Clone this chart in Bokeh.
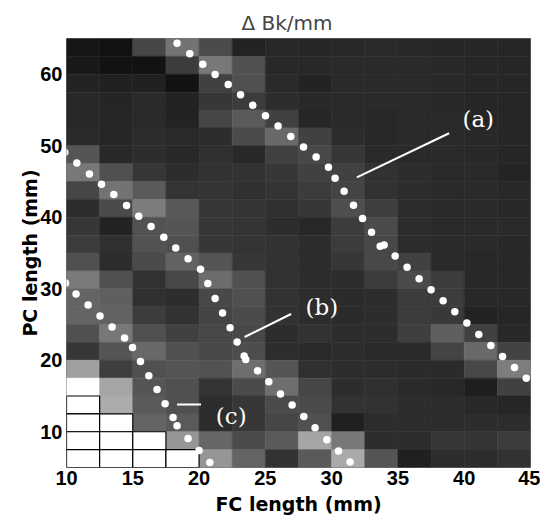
import math
from bokeh.plotting import figure
from bokeh.models import ColumnDataSource, LinearColorMapper, Range1d, FixedTicker, Label
from bokeh.palettes import Greys256
from bokeh.embed import file_html
from bokeh.resources import INLINE

# ---------------- data ----------------
fc_length = [11.25, 13.75, 16.25, 18.75, 21.25, 23.75, 26.25, 28.75,
             31.25, 33.75, 36.25, 38.75, 41.25, 43.75]
pc_length = [63.75, 61.25, 58.75, 56.25, 53.75, 51.25, 48.75, 46.25,
             43.75, 41.25, 38.75, 36.25, 33.75, 31.25, 28.75, 26.25,
             23.75, 21.25, 18.75, 16.25, 13.75, 11.25, 8.75, 6.25]
NA = float("nan")
# gray level of each cell (0 = black, 255 = white), rows from top (PC 63.75) to bottom
bk_rows = [
    [22, 18, 70, 115, 75, 35, 40, 38, 40, 42, 40, 38, 38, 38],
    [25, 18, 18, 60, 120, 80, 40, 40, 42, 42, 42, 40, 38, 38],
    [35, 33, 33, 18, 65, 80, 42, 35, 42, 42, 42, 40, 38, 38],
    [40, 37, 42, 35, 55, 60, 45, 40, 42, 42, 42, 40, 38, 38],
    [40, 38, 42, 35, 70, 90, 65, 38, 42, 40, 42, 42, 38, 38],
    [42, 38, 45, 42, 45, 75, 105, 65, 45, 40, 42, 42, 40, 38],
    [85, 40, 45, 40, 48, 40, 65, 72, 55, 42, 42, 42, 40, 38],
    [120, 80, 55, 45, 50, 50, 55, 65, 65, 50, 45, 42, 42, 36],
    [70, 115, 90, 52, 52, 48, 52, 60, 68, 50, 45, 42, 42, 40],
    [45, 75, 125, 88, 55, 52, 48, 55, 78, 62, 45, 42, 42, 40],
    [55, 35, 82, 85, 55, 52, 45, 40, 60, 75, 45, 42, 42, 42],
    [60, 48, 82, 80, 55, 52, 50, 45, 60, 72, 45, 42, 42, 40],
    [80, 45, 75, 98, 85, 55, 50, 45, 55, 72, 65, 42, 40, 40],
    [122, 80, 50, 72, 108, 80, 50, 45, 45, 60, 75, 60, 40, 40],
    [100, 95, 48, 45, 72, 80, 50, 45, 43, 45, 60, 60, 40, 40],
    [100, 98, 60, 50, 68, 75, 50, 45, 43, 45, 60, 57, 35, 38],
    [80, 120, 80, 65, 72, 72, 45, 50, 45, 45, 63, 95, 65, 40],
    [55, 85, 105, 80, 72, 77, 45, 42, 45, 42, 42, 68, 105, 67],
    [160, 62, 80, 85, 82, 110, 85, 48, 45, 45, 43, 43, 72, 125],
    [255, 165, 85, 80, 52, 75, 110, 70, 45, 48, 42, 40, 30, 65],
    [NA, 172, 90, 80, 45, 55, 75, 75, 50, 50, 45, 45, 40, 38],
    [NA, NA, 100, 90, 45, 55, 70, 80, 32, 45, 45, 45, 45, 45],
    [NA, NA, NA, 150, 102, 75, 90, 165, 120, 45, 45, 55, 52, 60],
    [NA, NA, NA, NA, 150, 100, 50, 90, 170, 85, 32, 45, 45, 50],
]

curve_a_x = [18.34, 19.30, 20.28, 21.21, 22.20, 23.13, 24.05, 25.01, 25.96, 26.92,
             27.88, 28.83, 29.76, 30.26, 30.94, 31.65, 32.33, 33.01, 33.66, 33.96,
             34.79, 35.69, 36.60, 37.50, 38.41, 39.29, 40.20, 41.10, 42.01, 42.89,
             43.79, 44.68]
curve_a_y = [64.34, 62.86, 61.40, 59.96, 58.56, 57.12, 55.65, 54.20, 52.75, 51.31,
             49.84, 48.44, 46.99, 45.45, 43.63, 41.67, 39.81, 37.89, 35.93, 36.13,
             34.59, 32.99, 31.41, 29.87, 28.33, 26.79, 25.21, 23.61, 22.07, 20.54,
             19.00, 17.48]
curve_b_x = [9.87, 10.78, 11.73, 12.64, 13.57, 14.53, 15.45, 16.38, 17.34, 18.24,
             19.17, 20.11, 20.66, 21.21, 21.77, 22.34, 22.87, 23.40, 23.52, 24.41,
             25.26, 26.14, 27.02, 27.90, 28.75, 29.64, 30.52, 31.39]
curve_b_y = [49.09, 47.60, 46.06, 44.61, 43.17, 41.63, 40.13, 38.69, 37.19, 35.71,
             34.21, 32.71, 30.75, 28.65, 26.61, 24.55, 22.55, 20.59, 20.12, 18.53,
             16.99, 15.27, 13.73, 12.14, 10.56, 8.88, 7.30, 5.76]
curve_c_x = [9.92, 10.72, 11.63, 12.53, 13.44, 14.38, 14.98, 15.58, 16.21, 16.83,
             17.44, 18.04, 18.34, 19.17, 20.00, 20.81]
curve_c_y = [30.81, 29.27, 27.73, 26.19, 24.65, 23.11, 21.80, 19.84, 17.83, 15.92,
             13.92, 12.00, 10.84, 9.06, 7.38, 5.70]

label_texts = ["(a)", "(b)", "(c)"]
label_x = [41.06, 29.26, 22.43]
label_y = [53.76, 27.45, 12.24]
leader_x0 = [31.90, 23.43, 18.34]
leader_y0 = [45.59, 23.25, 13.82]
leader_x1 = [38.86, 26.94, 20.15]
leader_y1 = [51.75, 26.47, 13.82]

x_ticks = [10, 15, 20, 25, 30, 35, 40, 45]
y_ticks = [10, 20, 30, 40, 50, 60]
cell_w = 2.5
cell_h = 2.5

# ---------------- build sources ----------------
vx, vy, vv, mx, my = [], [], [], [], []
for r, row in enumerate(bk_rows):
    for c, v in enumerate(row):
        if isinstance(v, float) and math.isnan(v):
            mx.append(fc_length[c]); my.append(pc_length[r])
        else:
            vx.append(fc_length[c]); vy.append(pc_length[r]); vv.append(v)

cells = ColumnDataSource(dict(x=vx, y=vy, v=vv))
masked = ColumnDataSource(dict(x=mx, y=my))
mapper = LinearColorMapper(palette=Greys256, low=0, high=255)

p = figure(width=540, height=519, output_backend="svg", toolbar_location=None,
           x_range=Range1d(10, 45), y_range=Range1d(5, 65),
           min_border_left=66, min_border_right=10, min_border_top=38, min_border_bottom=52,
           title="Δ Bk/mm")
p.background_fill_color = "white"
p.border_fill_color = "white"
p.grid.visible = False
p.outline_line_color = "#777777"
p.outline_line_width = 1

p.rect(x="x", y="y", width=cell_w, height=cell_h, source=cells,
       fill_color={"field": "v", "transform": mapper},
       line_color={"field": "v", "transform": mapper}, line_width=0.6)
p.rect(x="x", y="y", width=cell_w, height=cell_h, source=masked,
       fill_color="white", line_color="black", line_width=1.2)

p.segment(x0=leader_x0, y0=leader_y0, x1=leader_x1, y1=leader_y1,
          line_color="white", line_width=2)

for xs, ys in ((curve_a_x, curve_a_y), (curve_b_x, curve_b_y), (curve_c_x, curve_c_y)):
    p.scatter(x=xs, y=ys, size=7.5, fill_color="white", line_color=None)

for t, lx, ly in zip(label_texts, label_x, label_y):
    p.add_layout(Label(x=lx, y=ly, text=t, text_color="white", text_font="DejaVu Serif",
                       text_font_size="23px", text_align="center", text_baseline="middle"))

# title
p.title.text_font = "DejaVu Sans"
p.title.text_font_size = "20px"
p.title.text_font_style = "normal"
p.title.align = "left"
p.title.offset = 175
p.title.standoff = 7

# axes
for ax in (p.xaxis, p.yaxis):
    ax.axis_line_color = None
    ax.major_tick_line_color = None
    ax.minor_tick_line_color = None
    ax.major_tick_out = 0
    ax.major_tick_in = 0
    ax.minor_tick_out = 0
    ax.minor_tick_in = 0
    ax.major_label_text_font = "Liberation Sans"
    ax.major_label_text_font_style = "bold"
    ax.major_label_text_font_size = "20px"
    ax.major_label_text_color = "black"
    ax.axis_label_text_font = "DejaVu Sans"
    ax.axis_label_text_font_style = "bold"
    ax.axis_label_text_font_size = "19px"
    ax.axis_label_text_color = "black"
p.xaxis.ticker = FixedTicker(ticks=x_ticks)
p.yaxis.ticker = FixedTicker(ticks=y_ticks)
p.xaxis.axis_label = "FC length (mm)"
p.yaxis.axis_label = "PC length (mm)"
p.xaxis.major_label_standoff = 3
p.yaxis.major_label_standoff = 4
p.xaxis.axis_label_standoff = 5
p.yaxis.axis_label_standoff = -4

open("out.html", "w").write(file_html(p, INLINE))
